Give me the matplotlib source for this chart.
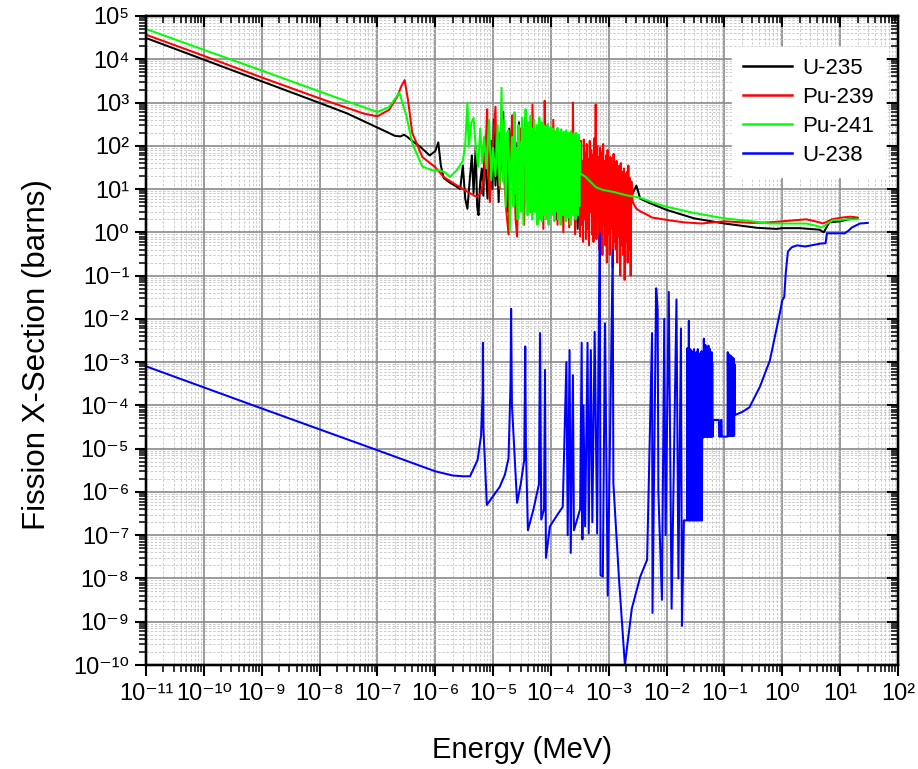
import numpy as np
import matplotlib
matplotlib.use('Agg')
import matplotlib.pyplot as plt
from matplotlib.ticker import LogLocator, NullFormatter, FuncFormatter

plt.rcParams['font.family'] = ['Liberation Sans', 'DejaVu Sans']

# ---------------- data (energy in MeV, cross-section in barns) ----------------
u235_e = [1e-11, 1e-10, 1e-9, 1e-8, 3e-8, 1e-7, 1.5e-7, 2e-7, 2.5e-7, 2.9e-7,
          3.3e-7, 4e-7, 5.5e-7, 8e-7, 1.0e-6, 1.13e-6, 1.25e-6, 1.4e-6, 1.8e-6, 2.2e-6,
          2.7e-6, 3.0e-6, 3.3e-6, 3.6e-6, 4.0e-6, 4.3e-6, 4.6e-6, 5.0e-6, 5.3e-6, 5.6e-6,
          6.0e-6, 6.4e-6, 6.8e-6, 7.2e-6, 7.6e-6, 8.0e-6, 8.6e-6, 9.2e-6, 9.7e-6, 1.03e-5,
          1.1e-5, 1.17e-5, 1.25e-5, 1.33e-5, 1.4e-5, 1.5e-5, 1.6e-5, 1.7e-5, 1.8e-5, 1.9e-5,
          2.0e-5, 2.15e-5, 2.3e-5, 2.45e-5, 2.6e-5, 2.8e-5, 3.0e-5, 3.2e-5, 3.4e-5, 3.6e-5,
          3.8e-5, 4.1e-5, 4.4e-5, 4.7e-5, 5.0e-5, 5.4e-5, 5.8e-5, 6.2e-5, 6.6e-5, 7.0e-5,
          7.5e-5, 8.0e-5, 8.5e-5, 9.0e-5, 9.6e-5, 1.02e-4, 1.1e-4, 1.18e-4, 1.26e-4, 1.35e-4,
          1.45e-4, 1.55e-4, 1.65e-4, 1.75e-4, 1.9e-4, 2.0e-4, 2.15e-4, 2.3e-4, 2.5e-4, 2.7e-4,
          2.9e-4, 3.1e-4, 3.4e-4, 3.7e-4, 4.0e-4, 4.4e-4, 4.8e-4, 5.2e-4, 5.7e-4, 6.2e-4,
          6.8e-4, 7.4e-4, 8.0e-4, 8.8e-4, 9.6e-4, 1.05e-3, 1.15e-3, 1.25e-3, 1.4e-3, 1.55e-3,
          1.7e-3, 1.9e-3, 2.1e-3, 2.3e-3, 2.6e-3, 3.0e-3, 3.5e-3, 5e-3, 7e-3, 1e-2,
          3e-2, 1e-1, 0.37, 0.8, 1.0, 2.0, 4.4, 5.2, 5.8, 6.5,
          10, 14, 20]
u235_s = [3.1e4, 9.8e3, 3.1e3, 980, 560, 265, 205, 170, 165, 180,
          160, 130, 95, 60, 75, 120, 35, 18, 14, 12,
          10, 35, 6, 3.5, 20, 60, 8, 95, 4, 2.5,
          15, 30, 7, 150, 20, 6, 40, 130, 10, 400,
          12, 70, 5, 200, 30, 600, 15, 80, 3, 250,
          20, 500, 8, 120, 4, 350, 25, 180, 6, 450,
          12, 90, 3, 300, 15, 130, 5, 250, 10, 60,
          2.5, 200, 8, 90, 4, 150, 6, 70, 2, 110,
          7, 50, 3, 90, 5, 40, 1.5, 60, 4, 30,
          1.2, 45, 8, 25, 3, 35, 10, 22, 6, 30,
          9, 40, 7, 20, 10, 35, 8, 25, 9, 28,
          10, 22, 9, 16, 8, 12, 6, 4.8, 4.0, 3.3,
          2.1, 1.6, 1.27, 1.2, 1.25, 1.25, 1.15, 1.0, 1.3, 1.7,
          1.8, 2.0, 2.1]

pu239_e = [1e-11, 1e-10, 1e-9, 1e-8, 3e-8, 6e-8, 1e-7, 1.6e-7, 2.2e-7, 2.6e-7,
           2.96e-7, 3.4e-7, 4e-7, 6e-7, 1e-6, 1.4e-6, 2e-6, 3e-6, 4e-6, 5.2e-6,
           6.2e-6, 7.0e-6, 7.5e-6, 7.9e-6, 8.3e-6, 8.8e-6, 9.5e-6, 1.05e-5, 1.1e-5, 1.15e-5,
           1.2e-5, 1.3e-5, 1.45e-5, 1.55e-5, 1.7e-5, 1.85e-5, 2.0e-5, 2.15e-5, 2.3e-5, 2.45e-5,
           2.6e-5, 2.8e-5, 3.0e-5, 3.2e-5, 3.45e-5, 3.7e-5, 3.95e-5, 4.2e-5, 4.5e-5, 4.8e-5,
           5.1e-5, 5.4e-5, 5.8e-5, 6.2e-5, 6.6e-5, 7.0e-5, 7.4e-5, 7.8e-5, 8.2e-5, 8.7e-5,
           9.2e-5, 9.8e-5, 1.04e-4, 1.1e-4, 1.16e-4, 1.23e-4, 1.3e-4, 1.38e-4, 1.46e-4, 1.55e-4,
           1.64e-4, 1.74e-4, 1.84e-4, 1.95e-4, 2.07e-4, 2.2e-4, 2.33e-4, 2.4e-4, 2.47e-4, 2.62e-4,
           2.78e-4, 2.95e-4,
           3.10e-4, 3.19e-4, 3.29e-4, 3.39e-4, 3.49e-4, 3.60e-4, 3.70e-4, 3.82e-4, 3.93e-4, 4.05e-4,
           4.17e-4, 4.29e-4, 4.42e-4, 4.55e-4, 4.69e-4, 4.83e-4, 4.98e-4, 5.13e-4, 5.28e-4, 5.44e-4,
           5.60e-4, 5.77e-4, 5.94e-4, 6.12e-4, 6.31e-4, 6.50e-4, 6.69e-4, 6.89e-4, 7.10e-4, 7.31e-4,
           7.53e-4, 7.76e-4, 7.99e-4, 8.23e-4, 8.48e-4, 8.73e-4, 8.99e-4, 9.26e-4, 9.54e-4, 9.83e-4,
           1.01e-3, 1.04e-3, 1.07e-3, 1.11e-3, 1.14e-3, 1.17e-3, 1.21e-3, 1.25e-3, 1.28e-3, 1.32e-3,
           1.36e-3, 1.40e-3, 1.44e-3, 1.49e-3, 1.53e-3, 1.58e-3, 1.62e-3, 1.67e-3, 1.72e-3, 1.77e-3,
           1.83e-3, 1.88e-3, 1.94e-3, 2.00e-3, 2.06e-3, 2.12e-3, 2.18e-3, 2.25e-3, 2.32e-3, 2.39e-3,
           2.46e-3,
           2.6e-3, 3.0e-3, 3.6e-3, 4.5e-3, 5.6e-3, 1.1e-2, 2e-2, 4e-2, 1e-1, 0.3,
           0.6, 1.0, 2.6, 4.4, 5.0, 5.6, 7.2, 11, 15, 20]
pu239_s = [3.7e4, 1.2e4, 3.8e3, 1.25e3, 750, 550, 480, 680, 1350, 2400,
           3300, 1100, 200, 55, 32, 19, 14, 10, 8, 6.6,
           8, 20, 120, 700, 20, 5, 40, 300, 800, 30,
           80, 10, 150, 20, 3, 0.9, 60, 500, 30, 2,
           0.8, 40, 250, 15, 1.5, 300, 20, 120, 3, 900,
           12, 200, 2, 350, 8, 100, 1.2, 1100, 25, 300,
           4, 150, 10, 400, 3, 80, 1.5, 200, 6, 60,
           1.0, 120, 5, 40, 1.3, 90, 4, 1000, 30, 0.9,
           70, 3,
           60, 0.8, 130, 1.5, 45, 0.6, 140, 2, 70, 0.7,
           110, 1.2, 50, 0.5, 130, 3, 80, 0.9, 60, 0.6,
           150, 1.0, 900, 0.7, 100, 2, 55, 0.4, 90, 0.8,
           70, 0.3, 110, 1.5, 45, 0.5, 60, 0.2, 80, 0.9,
           40, 0.3, 55, 1.2, 35, 0.15, 65, 0.6, 30, 0.4,
           45, 0.2, 28, 0.8, 35, 0.1, 40, 0.5, 25, 0.3,
           30, 0.08, 22, 0.6, 25, 0.2, 35, 0.4, 18, 0.1,
           15,
           5, 3.5, 3.0, 2.6, 2.2, 1.9, 1.7, 1.6, 1.8, 1.65,
           1.7, 1.8, 2.0, 1.7, 1.6, 1.7, 2.0, 2.2, 2.3, 2.2]

pu241_e = [1e-11, 1e-10, 1e-9, 1e-8, 1e-7, 1.6e-7, 2.4e-7, 3.2e-7, 4e-7, 6e-7,
           9e-7, 1.2e-6, 1.5e-6, 1.8e-6, 2.4e-6, 3.0e-6, 3.3e-6, 3.6e-6, 3.8e-6, 4.2e-6,
           4.6e-6, 5.0e-6, 5.5e-6, 6.0e-6, 6.5e-6, 7.0e-6, 7.7e-6, 8.5e-6, 9.3e-6, 1.0e-5,
           1.1e-5, 1.2e-5, 1.3e-5, 1.4e-5, 1.48e-5, 1.56e-5, 1.65e-5, 1.75e-5, 1.85e-5, 1.95e-5,
           2.05e-5, 2.15e-5, 2.25e-5, 2.35e-5, 2.45e-5, 2.55e-5, 2.65e-5, 2.75e-5, 2.85e-5, 2.95e-5,
           3.05e-5, 3.15e-5, 3.25e-5, 3.35e-5, 3.45e-5, 3.55e-5, 3.65e-5, 3.75e-5, 3.85e-5, 3.95e-5,
           4.05e-5, 4.15e-5, 4.25e-5, 4.35e-5, 4.45e-5, 4.55e-5, 4.65e-5, 4.75e-5, 4.85e-5, 4.95e-5,
           5.1e-5, 5.25e-5, 5.4e-5, 5.55e-5, 5.7e-5, 5.85e-5, 6.0e-5, 6.15e-5, 6.3e-5, 6.45e-5,
           6.6e-5, 6.75e-5, 6.9e-5, 7.05e-5, 7.2e-5, 7.35e-5, 7.5e-5, 7.65e-5, 7.8e-5, 7.95e-5,
           8.1e-5, 8.3e-5, 8.5e-5, 8.7e-5, 8.9e-5, 9.1e-5, 9.3e-5, 9.5e-5, 9.7e-5, 9.9e-5,
           1.01e-4, 1.04e-4, 1.07e-4, 1.09e-4, 1.12e-4, 1.15e-4, 1.18e-4, 1.21e-4, 1.24e-4, 1.27e-4,
           1.30e-4, 1.33e-4, 1.37e-4, 1.40e-4, 1.44e-4, 1.47e-4, 1.51e-4, 1.55e-4, 1.59e-4, 1.63e-4,
           1.67e-4, 1.71e-4, 1.75e-4, 1.80e-4, 1.84e-4, 1.89e-4, 1.94e-4, 1.98e-4, 2.03e-4, 2.08e-4,
           2.14e-4, 2.19e-4, 2.24e-4, 2.30e-4, 2.36e-4, 2.42e-4, 2.48e-4, 2.54e-4, 2.60e-4, 2.67e-4,
           2.74e-4, 2.80e-4, 2.87e-4, 2.95e-4, 3.02e-4, 3.10e-4, 3.17e-4, 3.22e-4,
           4e-4, 5e-4, 6e-4, 8e-4, 1.2e-3, 2e-3, 3.5e-3, 6e-3, 1e-2, 3e-2,
           0.1, 0.3, 0.6, 1.0, 2.6, 4.0, 4.7, 5.3, 6.0, 7.5,
           10, 14, 20]
pu241_s = [5e4, 1.65e4, 5.5e3, 1.8e3, 600, 790, 1700, 470, 115, 33,
           27, 27, 24, 19, 28, 45, 110, 1000, 95, 340,
           440, 95, 33, 250, 40, 160, 30, 400, 16, 90,
           20, 300, 12, 2200, 15, 400, 3.9, 200, 230, 1.1,
           50, 160, 4, 600, 8, 90, 2, 300, 15, 120,
           3, 450, 20, 1.5, 250, 40, 700, 6, 150, 2.5,
           350, 10, 200, 3, 500, 30, 120, 2, 250, 8,
           400, 3, 180, 12, 300, 1.5, 220, 5, 450, 2,
           150, 6, 350, 1.8, 200, 10, 300, 2.5, 160, 4,
           280, 2, 150, 7, 320, 1.5, 200, 4, 260, 3,
           180, 2.5, 250, 4, 150, 1.8, 220, 3, 170, 5,
           260, 2, 140, 3.5, 200, 1.5, 240, 4, 160, 2.5,
           210, 3, 180, 1.8, 230, 5, 150, 2.2, 200, 3,
           170, 1.5, 220, 4, 140, 2.5, 190, 3.5, 160, 2,
           200, 3, 150, 2.5, 180, 4, 120, 23,
           19, 14, 11, 9.5, 8.6, 7.2, 6.3, 4.8, 3.9, 2.8,
           2.1, 1.8, 1.6, 1.6, 1.6, 1.4, 1.3, 1.4, 1.6, 1.9,
           1.95, 2.0, 2.0]

u238_e = [1e-11, 1e-10, 1e-9, 1e-8, 1e-7, 1e-6, 2e-6, 3e-6, 4e-6, 5.4e-6,
          6.2e-6, 6.6e-6, 6.67e-6, 6.8e-6, 7.8e-6, 1.0e-5, 1.3e-5, 1.6e-5, 1.85e-5, 2.0e-5,
          2.05e-5, 2.12e-5, 2.6e-5, 3.0e-5, 3.45e-5, 3.6e-5, 3.7e-5, 4.0e-5, 5e-5, 6.2e-5,
          6.5e-5, 6.8e-5, 7.6e-5, 7.9e-5, 8.2e-5, 9.6e-5, 1.3e-4, 1.6e-4, 1.85e-4, 1.95e-4,
          2.1e-4, 2.2e-4, 2.4e-4, 2.5e-4, 3.2e-4, 3.4e-4, 3.5e-4, 3.65e-4, 3.9e-4, 4.3e-4,
          4.5e-4, 4.9e-4, 5.2e-4, 5.7e-4, 6.3e-4, 6.6e-4, 7.0e-4, 7.2e-4, 7.9e-4, 8.6e-4,
          9.6e-4, 1.17e-3, 1.2e-3, 1.5e-3, 1.9e-3, 2.5e-3, 3.5e-3, 4.6e-3, 5.6e-3, 5.7e-3,
          6.6e-3, 7.0e-3, 7.2e-3, 8.3e-3, 9.1e-3, 9.6e-3, 1.09e-2, 1.22e-2, 1.48e-2, 1.6e-2,
          1.77e-2, 1.84e-2, 1.91e-2, 1.99e-2,
          0.0225, 0.0228, 0.0232, 0.0235, 0.0239, 0.0242, 0.0246, 0.0249, 0.0253, 0.0257,
          0.0261, 0.0265, 0.0269, 0.0273, 0.0277, 0.0281, 0.0285, 0.0290, 0.0294, 0.0298,
          0.0303, 0.0307, 0.0312, 0.0317, 0.0321, 0.0326, 0.0331, 0.0336, 0.0341, 0.0346,
          0.0352, 0.0357, 0.0362, 0.0368, 0.0373, 0.0379, 0.0385, 0.0390, 0.0396, 0.0402,
          0.0408, 0.0412, 0.0430,
          0.0440, 0.0447, 0.0454, 0.0461, 0.0468, 0.0475, 0.0482, 0.0490, 0.0497, 0.0505,
          0.0513, 0.0520, 0.0528, 0.0536, 0.0545, 0.0553, 0.0561, 0.0570, 0.0579, 0.0588,
          0.0597, 0.0606, 0.0615, 0.0625,
          0.064, 0.080, 0.081, 0.086, 0.087, 0.089, 0.090, 0.113,
          0.114, 0.116, 0.118, 0.1195, 0.121, 0.123, 0.125, 0.127, 0.129, 0.131,
          0.133, 0.135, 0.137, 0.139, 0.141, 0.143, 0.145, 0.147, 0.149,
          0.152, 0.2, 0.27, 0.41, 0.61, 0.91, 1.0, 1.08, 1.15, 1.25,
          1.45, 1.8, 2.5, 3.2, 4.6, 5.6, 5.9, 12, 14, 16,
          22, 30]
u238_s = [8e-4, 2.6e-4, 8.5e-5, 2.8e-5, 9.2e-6, 3.0e-6, 2.4e-6, 2.3e-6, 2.3e-6, 5.5e-6,
          2e-5, 2e-4, 2.8e-3, 3e-5, 5e-7, 8e-7, 1.3e-6, 2.5e-6, 6e-6, 3e-4,
          1.7e-2, 1e-4, 5.6e-7, 1.5e-6, 5.4e-6, 2.3e-3, 1e-5, 1.3e-7, 4e-7, 1.5e-6,
          4.7e-3, 2.3e-7, 4e-7, 6.6e-4, 3e-8, 1.6e-7, 3e-7, 4.5e-7, 1e-3, 1e-7,
          1.9e-3, 3.9e-8, 5e-4, 1.3e-7, 4e-7, 2.8e-3, 8e-8, 1e-4, 1.6e-7, 2.8e-3,
          1.1e-7, 1.9e-3, 2e-7, 5e-3, 1.1e-7, 5.5e-4, 0.95, 1.2e-8, 1.1e-8, 7.9e-3,
          4e-9, 0.39, 1.6e-6, 1e-8, 1e-10, 2e-9, 1.1e-8, 2.7e-8, 4.7e-3, 1.6e-9,
          5.1e-2, 1.6e-2, 1e-6, 3.2e-9, 1e-2, 1e-7, 4.2e-2, 2e-9, 2.8e-2, 1e-8,
          6e-3, 8e-10, 1e-8, 2.2e-7,
          2.2e-7, 2.1e-3, 2.2e-7, 1.2e-3, 2.2e-7, 9e-3, 2.2e-7, 1.5e-3, 2.2e-7, 2e-3,
          2.2e-7, 8e-4, 2.2e-7, 1.8e-3, 2.2e-7, 1.4e-3, 2.2e-7, 1e-3, 2.2e-7, 2e-3,
          2.2e-7, 1.3e-3, 2.2e-7, 9e-4, 2.2e-7, 1.7e-3, 2.2e-7, 1.1e-3, 2.2e-7, 2e-3,
          2.2e-7, 1.2e-3, 2.2e-7, 7e-4, 2.2e-7, 1.6e-3, 2.2e-7, 1e-3, 2.2e-7, 1.8e-3,
          2.2e-7, 1.8e-5, 1.8e-5,
          3.5e-3, 1.9e-5, 2e-3, 1.9e-5, 2.5e-3, 1.9e-5, 1.5e-3, 1.9e-5, 2.2e-3, 1.9e-5,
          1.8e-3, 1.9e-5, 2.4e-3, 1.9e-5, 1.2e-3, 1.9e-5, 2e-3, 1.9e-5, 1.5e-3, 1.9e-5,
          1.7e-3, 1.9e-5, 1e-3, 1.9e-5,
          4.6e-5, 4.6e-5, 1.9e-5, 1.9e-5, 4.6e-5, 4.6e-5, 1.9e-5, 1.9e-5,
          1.7e-3, 2e-5, 1.2e-3, 2e-5, 1.5e-3, 2e-5, 1.3e-3, 2e-5, 1.4e-3, 2e-5,
          1.0e-3, 2e-5, 1.3e-3, 2e-5, 1.1e-3, 2e-5, 1.2e-3, 2e-5, 9e-4,
          6e-5, 7e-5, 9e-5, 2.7e-4, 1.1e-3, 1.4e-2, 2.7e-2, 3.2e-2, 0.12, 0.36,
          0.45, 0.5, 0.47, 0.5, 0.55, 0.56, 0.95, 0.95, 1.1, 1.3,
          1.6, 1.65]

series_names = ['U-235', 'Pu-239', 'Pu-241', 'U-238']
series_colors = ['#000000', '#ff0000', '#00ff00', '#0000ff']
x_limits = (1e-11, 1e2)
y_limits = (1e-10, 1e5)

_SUP = str.maketrans('-0123456789', '\u207b\u2070\u00b9\u00b2\u00b3\u2074\u2075\u2076\u2077\u2078\u2079')


def decade_label(v, pos):
    p = int(round(np.log10(v)))
    return '10' + str(p).translate(_SUP)


# ---------------- figure ----------------
fig = plt.figure(figsize=(9.18, 7.69), dpi=100)
ax = fig.add_axes([146/918, 1 - 665/769, (898 - 146)/918, (665 - 16)/769])
ax.set_xscale('log')
ax.set_yscale('log')

data = [(u235_e, u235_s), (pu239_e, pu239_s), (pu241_e, pu241_s), (u238_e, u238_s)]
for (e, s), name, col in zip(data, series_names, series_colors):
    ax.plot(e, s, color=col, lw=1.45, label=name)

ax.set_xlim(*x_limits)
ax.set_ylim(*y_limits)

for axis in (ax.xaxis, ax.yaxis):
    axis.set_major_locator(LogLocator(base=10, subs=(1.0,), numticks=40))
    axis.set_minor_locator(LogLocator(base=10, subs=np.arange(2, 10), numticks=400))
    axis.set_minor_formatter(NullFormatter())
    axis.set_major_formatter(FuncFormatter(decade_label))

ax.grid(which='major', color='#8a8a8a', lw=1.2, ls='-')
ax.grid(which='minor', color='#c4c4c4', lw=0.6, ls=(0, (3, 2)))
ax.set_axisbelow(True)

ax.tick_params(which='major', direction='out', length=8, width=1.5, labelsize=17,
               top=False, right=False)
ax.tick_params(axis='x', which='major', pad=5)
ax.tick_params(axis='y', which='major', pad=4)
ax.tick_params(which='minor', direction='out', length=5, width=1.1, top=False, right=False)
for sp in ax.spines.values():
    sp.set_linewidth(1.6)

# inward ticks on top and right (separate overlay axes, no labels)
axt = ax.twiny()
axt.set_xscale('log')
axt.set_xlim(*x_limits)
axt.xaxis.set_major_locator(LogLocator(base=10, subs=(1.0,), numticks=40))
axt.xaxis.set_minor_locator(LogLocator(base=10, subs=np.arange(2, 10), numticks=400))
axt.xaxis.set_major_formatter(NullFormatter())
axt.xaxis.set_minor_formatter(NullFormatter())
axt.tick_params(which='major', direction='in', length=8, width=1.5, labeltop=False,
                labelbottom=False)
axt.tick_params(which='minor', direction='in', length=5, width=1.1)
axr = ax.twinx()
axr.set_yscale('log')
axr.set_ylim(*y_limits)
axr.yaxis.set_major_locator(LogLocator(base=10, subs=(1.0,), numticks=40))
axr.yaxis.set_minor_locator(LogLocator(base=10, subs=np.arange(2, 10), numticks=400))
axr.yaxis.set_major_formatter(NullFormatter())
axr.yaxis.set_minor_formatter(NullFormatter())
axr.tick_params(which='major', direction='in', length=8, width=1.5, labelright=False,
                labelleft=False)
axr.tick_params(which='minor', direction='in', length=5, width=1.1)
for a in (axt, axr):
    for sp in a.spines.values():
        sp.set_linewidth(1.6)

ax.set_xlabel('Energy (MeV)', fontsize=21)
ax.set_ylabel('Fission X-Section (barns)', fontsize=22.5)
ax.xaxis.set_label_coords(0.5, -0.11)
ax.yaxis.set_label_coords(-0.125, 0.478)

leg = ax.legend(loc='upper right', bbox_to_anchor=(0.983, 0.952), borderaxespad=0,
                fontsize=16, frameon=True, fancybox=False, framealpha=1,
                edgecolor='white', facecolor='white', handlelength=2.2,
                handletextpad=0.45, labelspacing=0.35, borderpad=0.5)
for h in leg.get_lines():
    h.set_linewidth(1.8)
leg.set_zorder(10)

fig.savefig('out.png', dpi=100)
